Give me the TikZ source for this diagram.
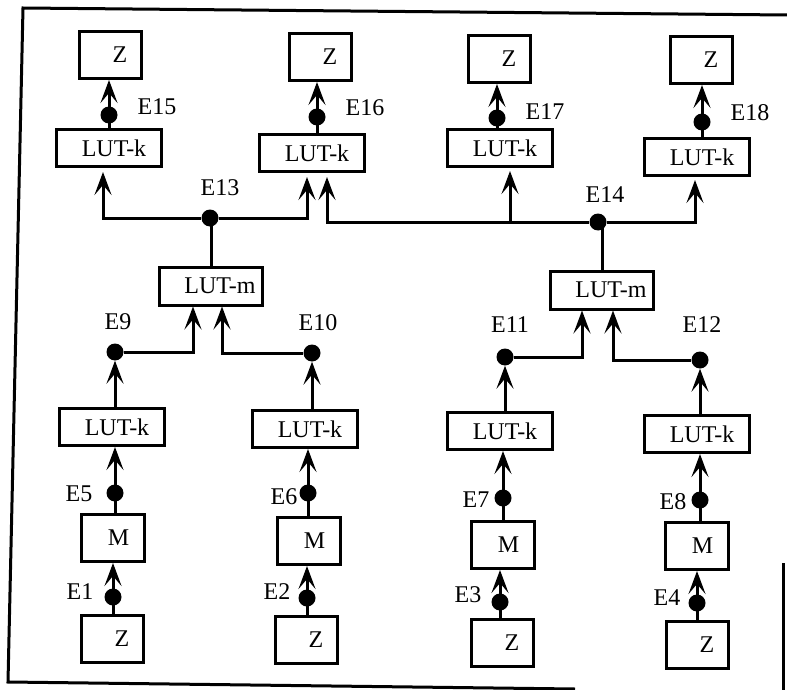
\documentclass[tikz,border=0pt]{standalone}
\usepackage{fontspec}
\setmainfont{Liberation Serif}
\newfontfamily\tmsfont{Liberation Serif}
\usetikzlibrary{arrows.meta}
\tikzset{
  lw/.style={line width=3pt},
  box/.style={draw, lw, inner sep=0pt, font=\tmsfont\fontsize{24}{27}\selectfont},
  zbox/.style={box, minimum width=62pt, minimum height=47pt, execute at begin node={\hspace*{20pt}}},
  mbox/.style={box, minimum width=63pt, minimum height=47pt, execute at begin node={\hspace*{11pt}}},
  kbox/.style={box, minimum width=105pt, minimum height=37pt, execute at begin node={\hspace*{10pt}}},
  mlbox/.style={box, minimum width=103pt, minimum height=38pt, execute at begin node={\hspace*{18pt}}},
  dot/.style={circle, fill=black, inner sep=0pt, minimum size=17pt},
  lbl/.style={inner sep=0pt, font=\tmsfont\fontsize{24}{27}\selectfont},
  arr/.style={lw, -{Stealth[length=23pt, width=17pt, inset=10pt]}},
  con/.style={lw}
}
\begin{document}
\begin{tikzpicture}[x=1pt, y=-1pt]
\useasboundingbox (0,0) rectangle (787,690);
% frame
\draw[lw] (787,15) -- (23,8) -- (8,682) -- (575,689);
\draw[lw] (783,563) -- (783,690);

% top row
\node[zbox] (Zt1) at (110,55) {Z};
\node[kbox] (LKt1) at (109,148) {LUT-k};
\node[dot] (E15) at (109,115) {};
\node[zbox] (Zt2) at (320,57) {Z};
\node[kbox] (LKt2) at (312,153) {LUT-k};
\node[dot] (E16) at (317,117) {};
\node[zbox] (Zt3) at (499,59) {Z};
\node[kbox] (LKt3) at (500,148) {LUT-k};
\node[dot] (E17) at (497,118) {};
\node[zbox] (Zt4) at (701,60) {Z};
\node[kbox] (LKt4) at (697,157) {LUT-k};
\node[dot] (E18) at (702,122) {};

% middle
\node[dot] (E13) at (210,218) {};
\node[dot] (E14) at (598,222) {};
\node[mlbox] (LM1) at (211,286) {LUT-m};
\node[mlbox] (LM2) at (602,290) {LUT-m};
\node[dot] (E9) at (115,352) {};
\node[dot] (E10) at (312,353) {};
\node[dot] (E11) at (505,357) {};
\node[dot] (E12) at (700,360) {};

% lower columns
\node[kbox] (LK1) at (112,427) {LUT-k};
\node[dot] (E5) at (115,493) {};
\node[mbox] (M1) at (113,538) {M};
\node[dot] (E1) at (113,597) {};
\node[zbox] (Zb1) at (112,639) {Z};

\node[kbox] (LK2) at (305,429) {LUT-k};
\node[dot] (E6) at (308,493) {};
\node[mbox] (M2) at (309,541) {M};
\node[dot] (E2) at (307,598) {};
\node[zbox] (Zb2) at (306,640) {Z};

\node[kbox] (LK3) at (500,431) {LUT-k};
\node[dot] (E7) at (503,498) {};
\node[mbox] (M3) at (503,545) {M};
\node[dot] (E3) at (500,602) {};
\node[zbox] (Zb3) at (502,643) {Z};

\node[kbox] (LK4) at (697,434) {LUT-k};
\node[dot] (E8) at (700,500) {};
\node[mbox] (M4) at (697,546) {M};
\node[dot] (E4) at (697,603) {};
\node[zbox] (Zb4) at (697,645) {Z};

% labels
\node[lbl] (lE1) at (80,592) {E1};
\node[lbl] (lE2) at (277,592) {E2};
\node[lbl] (lE3) at (468,595) {E3};
\node[lbl] (lE4) at (667,598) {E4};
\node[lbl] (lE5) at (79,494) {E5};
\node[lbl] (lE6) at (284,497) {E6};
\node[lbl] (lE7) at (476,500) {E7};
\node[lbl] (lE8) at (673,502) {E8};
\node[lbl] (lE9) at (118,322) {E9};
\node[lbl] (lE10) at (318,323) {E10};
\node[lbl] (lE11) at (510,325) {E11};
\node[lbl] (lE12) at (702,325) {E12};
\node[lbl] (lE13) at (220,188) {E13};
\node[lbl] (lE14) at (605,195) {E14};
\node[lbl] (lE15) at (157,107) {E15};
\node[lbl] (lE16) at (365,108) {E16};
\node[lbl] (lE17) at (545,112) {E17};
\node[lbl] (lE18) at (750,113) {E18};

% bottom column connectors
\draw[arr] (E1 |- Zb1.north) -- (E1 |- M1.south);
\draw[arr] (E5 |- M1.north) -- (E5 |- LK1.south);
\draw[arr] (E9 |- LK1.north) -- (E9);
\draw[arr] (E2 |- Zb2.north) -- (E2 |- M2.south);
\draw[arr] (E6 |- M2.north) -- (E6 |- LK2.south);
\draw[arr] (E10 |- LK2.north) -- (E10);
\draw[arr] (E3 |- Zb3.north) -- (E3 |- M3.south);
\draw[arr] (E7 |- M3.north) -- (E7 |- LK3.south);
\draw[arr] (E11 |- LK3.north) -- (E11);
\draw[arr] (E4 |- Zb4.north) -- (E4 |- M4.south);
\draw[arr] (E8 |- M4.north) -- (E8 |- LK4.south);
\draw[arr] (E12 |- LK4.north) -- (E12);

% into LUT-m
\draw[arr] (E9) -| ([xshift=-18pt]LM1.south);
\draw[arr] (E10) -| ([xshift=11pt]LM1.south);
\draw[arr] (E11) -| ([xshift=-20pt]LM2.south);
\draw[arr] (E12) -| ([xshift=11pt]LM2.south);

% LUT-m outputs
\draw[con] (LM1.north) -- (LM1.north |- E13);
\draw[con] (LM2.north) -- (LM2.north |- E14);

% distribution lines
\draw[arr, shorten >=4pt] (E13) -| ([xshift=-6pt]LKt1.south);
\draw[arr, shorten >=4pt] (E13) -| ([xshift=-5pt]LKt2.south);
\draw[arr, shorten >=4pt] (E14) -| ([xshift=15pt]LKt2.south);
\draw[arr, shorten >=3pt] ([xshift=10pt]LKt3.south |- E14) -- ([xshift=10pt]LKt3.south);
\draw[arr, shorten >=3pt] (E14) -| ([xshift=-2pt]LKt4.south);

% top outputs
\draw[arr] (E15 |- LKt1.north) -- (E15 |- Zt1.south);
\draw[arr] (E16 |- LKt2.north) -- (E16 |- Zt2.south);
\draw[arr] (E17 |- LKt3.north) -- (E17 |- Zt3.south);
\draw[arr] (E18 |- LKt4.north) -- (E18 |- Zt4.south);
\end{tikzpicture}
\end{document}
